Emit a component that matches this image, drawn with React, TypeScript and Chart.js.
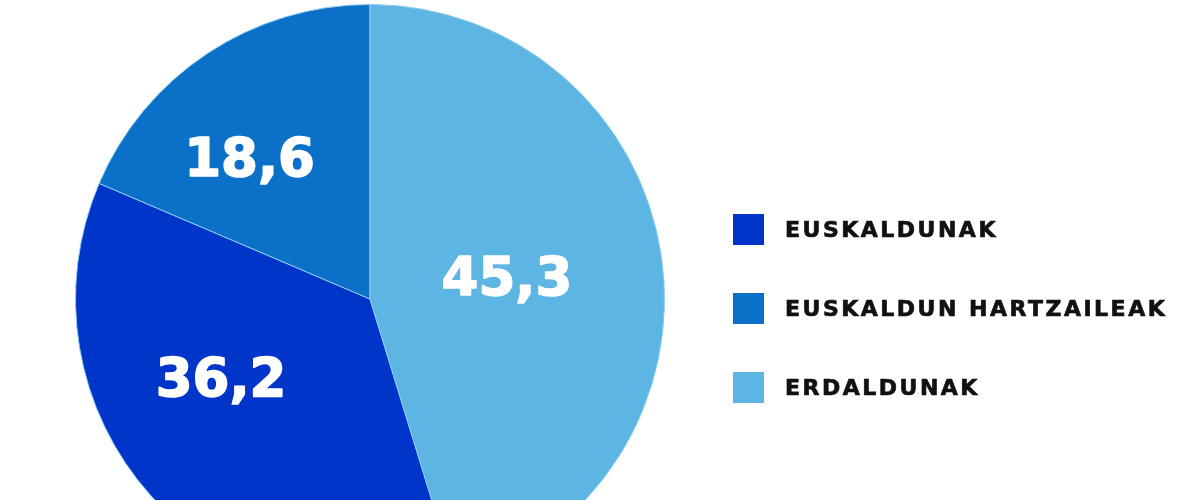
import React, { useEffect, useRef } from "react";
import { Chart, registerables } from "chart.js";

Chart.register(...registerables);

const categories = ["EUSKALDUNAK", "EUSKALDUN HARTZAILEAK", "ERDALDUNAK"];
const values = [36.2, 18.6, 45.3];
const colors = ["#0035c9", "#0a70c8", "#5db5e3"];

// label placement style: radius fraction and angular nudge (degrees) per slice
const labelRadius = [0.576, 0.624, 0.47];
const labelAngleNudge = [13.4, -7.5, 0.3];

const total = values.reduce((a, b) => a + b, 0);
const startRotation = 360 - (values[0] + values[1]) / total * 360;

const sliceLabels = {
  id: "sliceLabels",
  afterDatasetsDraw(chart: any) {
    const ctx = chart.ctx;
    const meta = chart.getDatasetMeta(0);
    ctx.save();
    ctx.fillStyle = "#ffffff";
    ctx.strokeStyle = "#ffffff";
    ctx.lineWidth = 1.6;
    ctx.lineJoin = "round";
    ctx.font = "bold 53px 'DejaVu Sans'";
    ctx.textAlign = "center";
    ctx.textBaseline = "middle";
    meta.data.forEach((arc: any, i: number) => {
      const p = arc.getProps(["x", "y", "startAngle", "endAngle", "outerRadius"], true);
      const mid = (p.startAngle + p.endAngle) / 2 + (labelAngleNudge[i] * Math.PI) / 180;
      const r = p.outerRadius * labelRadius[i];
      const x = p.x + Math.cos(mid) * r;
      const y = p.y + Math.sin(mid) * r;
      const t = String(values[i]).replace(".", ",");
      ctx.fillText(t, x, y + 2);
      ctx.strokeText(t, x, y + 2);
    });
    ctx.restore();
  },
};

export default function App() {
  const ref = useRef<HTMLCanvasElement | null>(null);
  useEffect(() => {
    if (!ref.current) return;
    const chart = new Chart(ref.current, {
      type: "pie",
      data: {
        labels: categories,
        datasets: [
          {
            data: values,
            backgroundColor: colors,
            borderColor: "#8fcbf0",
            borderWidth: 1,
          },
        ],
      },
      options: {
        animation: false,
        responsive: true,
        maintainAspectRatio: false,
        rotation: startRotation,
        layout: { padding: 0 },
        plugins: {
          legend: { display: false },
          tooltip: { enabled: false },
        },
      },
      plugins: [sliceLabels],
    });
    return () => chart.destroy();
  }, []);

  return (
    <div style={{ position: "fixed", left: 0, top: 0, width: 1200, height: 500, overflow: "hidden", background: "#fff" }}>
      <div style={{ position: "absolute", left: 0, top: 4, width: 740, height: 590 }}>
        <canvas ref={ref} />
      </div>
      {categories.map((c, i) => (
        <div
          key={c}
          style={{ position: "absolute", left: 733, top: 214 + i * 79, height: 31, display: "flex", alignItems: "center" }}
        >
          <div style={{ width: 31, height: 31, background: colors[i] }} />
          <div
            style={{
              marginLeft: 21,
              fontFamily: "'DejaVu Sans'",
              fontWeight: 700,
              fontSize: 22,
              color: "#111",
              letterSpacing: 2.5,
              WebkitTextStroke: "0.7px #111",
              whiteSpace: "nowrap",
            }}
          >
            {c}
          </div>
        </div>
      ))}
    </div>
  );
}
